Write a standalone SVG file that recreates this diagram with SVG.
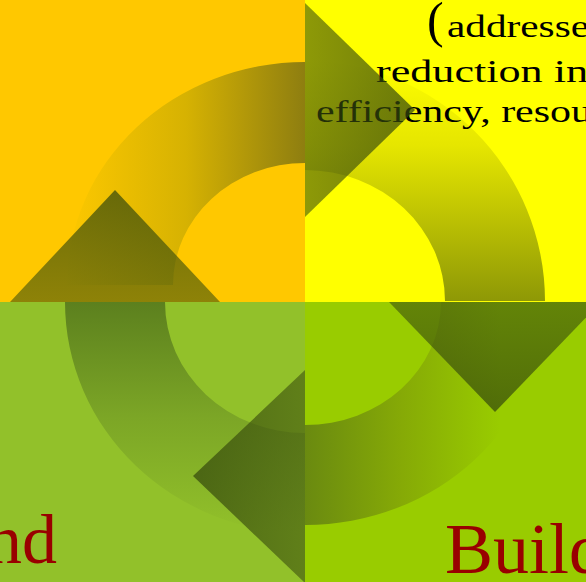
<svg xmlns="http://www.w3.org/2000/svg" width="586" height="582" viewBox="0 0 586 582">
  <defs>
    <!-- quarter-ring shading -->
    <linearGradient id="ringTL" gradientUnits="userSpaceOnUse" x1="67" y1="0" x2="305" y2="0">
      <stop offset="0" stop-color="#FDC800"/>
      <stop offset="0.5" stop-color="#D6B202"/>
      <stop offset="1" stop-color="#8E7E10"/>
    </linearGradient>
    <linearGradient id="ringTR" gradientUnits="userSpaceOnUse" x1="0" y1="61" x2="0" y2="301">
      <stop offset="0" stop-color="#FFFF00"/>
      <stop offset="0.35" stop-color="#E6E600"/>
      <stop offset="1" stop-color="#8E9806"/>
    </linearGradient>
    <linearGradient id="ringBR" gradientUnits="userSpaceOnUse" x1="305" y1="0" x2="500" y2="0">
      <stop offset="0" stop-color="#6A8A10"/>
      <stop offset="0.5" stop-color="#86AA06"/>
      <stop offset="1" stop-color="#99CC00"/>
    </linearGradient>
    <linearGradient id="ringBL" gradientUnits="userSpaceOnUse" x1="0" y1="302" x2="0" y2="533">
      <stop offset="0" stop-color="#5C801E"/>
      <stop offset="0.5" stop-color="#7CA626"/>
      <stop offset="1" stop-color="#92C12A"/>
    </linearGradient>
    <!-- translucent arrowheads, darker toward the tip -->
    <linearGradient id="tipUp" x1="0" y1="1" x2="0" y2="0">
      <stop offset="0" stop-color="#3C500D" stop-opacity="0.58"/>
      <stop offset="1" stop-color="#34480C" stop-opacity="0.72"/>
    </linearGradient>
    <linearGradient id="tipRight" x1="0" y1="0" x2="1" y2="0">
      <stop offset="0" stop-color="#3C500D" stop-opacity="0.58"/>
      <stop offset="1" stop-color="#34480C" stop-opacity="0.72"/>
    </linearGradient>
    <linearGradient id="tipDown" x1="0" y1="0" x2="0" y2="1">
      <stop offset="0" stop-color="#3C500D" stop-opacity="0.58"/>
      <stop offset="1" stop-color="#34480C" stop-opacity="0.72"/>
    </linearGradient>
    <linearGradient id="tipLeft" x1="1" y1="0" x2="0" y2="0">
      <stop offset="0" stop-color="#3C500D" stop-opacity="0.58"/>
      <stop offset="1" stop-color="#34480C" stop-opacity="0.72"/>
    </linearGradient>
  </defs>
  <style>
    .body { font-family: "Liberation Serif", "Times New Roman", serif; fill: #000000; }
    .title { font-family: "Liberation Serif", "Times New Roman", serif; fill: #990000; }
  </style>

  <!-- quadrant panels -->
  <g id="panels">
    <rect x="0" y="0" width="305" height="302" fill="#FFC800"/>
    <rect x="305" y="0" width="281" height="302" fill="#FFFF00"/>
    <rect x="0" y="302" width="305" height="280" fill="#92C12A"/>
    <rect x="305" y="302" width="281" height="280" fill="#99CC00"/>
  </g>

  <!-- cycle ring, one quarter per panel -->
  <g id="connectors-ring">
    <path d="M67,285 A238,223 0 0 1 305,62 L305,163 A132,122 0 0 0 173,285 Z" fill="url(#ringTL)"/>
    <path d="M305,61 A240,240 0 0 1 545,301 L445,301 A140,131 0 0 0 305,170 Z" fill="url(#ringTR)"/>
    <path d="M545,302 A240,223 0 0 1 305,525 L305,425 A136,123 0 0 0 441,302 Z" fill="url(#ringBR)"/>
    <path d="M305,533 A240,231 0 0 1 65,302 L165,302 A140,131 0 0 0 305,433 Z" fill="url(#ringBL)"/>
  </g>

  <!-- panel texts -->
  <g id="node-top-right">
    <text class="body" x="427" y="37" font-size="50">(</text>
    <text class="body" x="447" y="37" font-size="31" textLength="142" lengthAdjust="spacingAndGlyphs">addresse</text>
    <text class="body" x="376" y="82" font-size="31" textLength="212" lengthAdjust="spacingAndGlyphs">reduction in</text>
    <text class="body" x="316" y="122" font-size="31" textLength="276" lengthAdjust="spacingAndGlyphs">efficiency, resou</text>
  </g>
  <g id="node-bottom-left">
    <text class="title" x="-13" y="563" font-size="70">nd</text>
  </g>
  <g id="node-bottom-right">
    <text class="title" x="445" y="573" font-size="72">Build</text>
  </g>

  <!-- arrowheads closing each quarter of the cycle -->
  <g id="connectors-heads">
    <polygon points="10,302 220,302 115,190" fill="url(#tipUp)"/>
    <polygon points="305,3 415,110 305,217" fill="url(#tipRight)"/>
    <polygon points="389,302 601,302 495,412" fill="url(#tipDown)"/>
    <polygon points="305,370 193,476 305,583" fill="url(#tipLeft)"/>
  </g>
</svg>
